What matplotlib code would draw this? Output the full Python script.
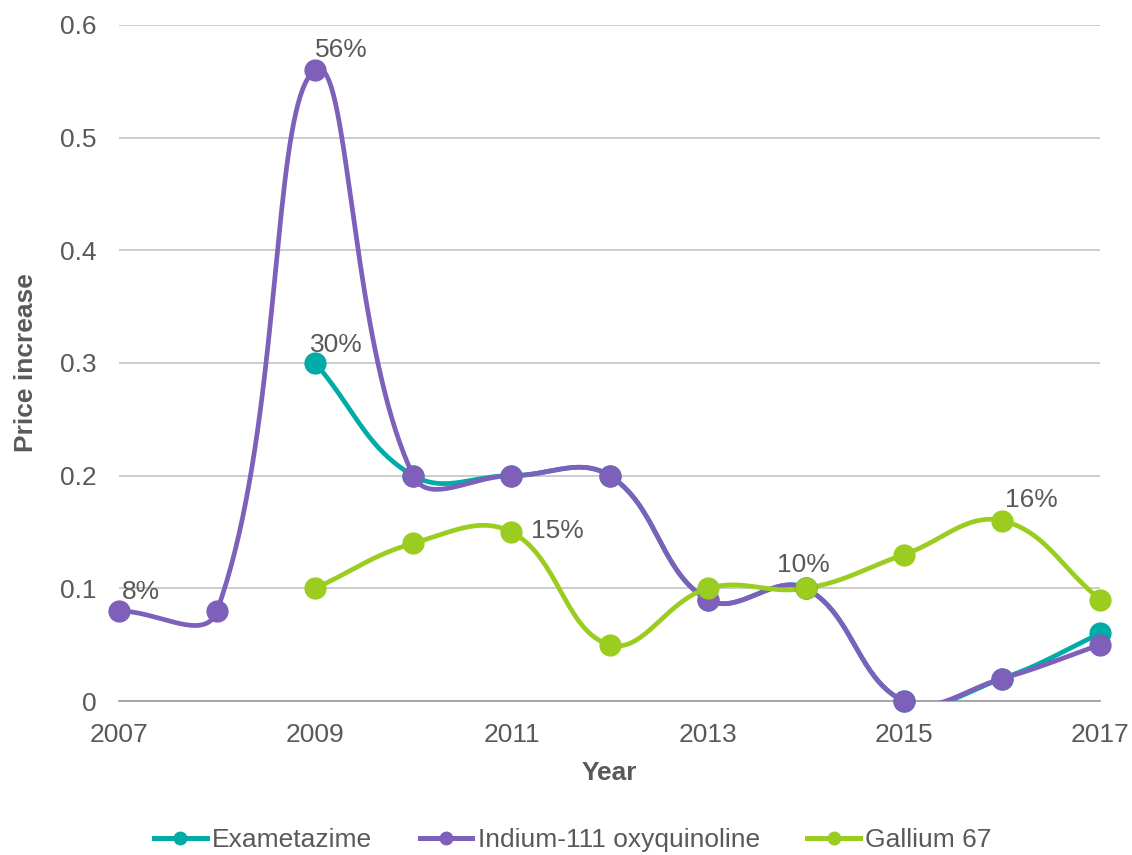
import numpy as np
import matplotlib.pyplot as plt

plt.rcParams['font.family'] = ['Liberation Sans', 'DejaVu Sans']

years = [2007, 2008, 2009, 2010, 2011, 2012, 2013, 2014, 2015, 2016, 2017]

# None = no value for that year
exametazime = [None, None, 0.30, 0.20, 0.20, 0.20, 0.09, 0.10, 0.00, 0.02, 0.06]
indium = [0.08, 0.08, 0.56, 0.20, 0.20, 0.20, 0.09, 0.10, 0.00, 0.02, 0.05]
gallium = [None, None, 0.10, 0.14, 0.15, 0.05, 0.10, 0.10, 0.13, 0.16, 0.09]

series_names = ["Exametazime", "Indium-111 oxyquinoline", "Gallium 67"]
series_colors = ["#00ABA8", "#7E5FBA", "#9ACD1F"]

# data labels: (series index, year, text)
labels = [(1, 2007, "8%"), (1, 2009, "56%"), (0, 2009, "30%"),
          (2, 2011, "15%"), (2, 2014, "10%"), (2, 2016, "16%")]
# where each label sits relative to its point
label_place = {"8%": ((2, 5), 'left', 'bottom'),
               "56%": ((0, 6), 'left', 'bottom'),
               "30%": ((-4, 4), 'left', 'bottom'),
               "15%": ((14, 1), 'left', 'center'),
               "10%": ((-2, 8), 'center', 'bottom'),
               "16%": ((2, 6), 'left', 'bottom')}


def smooth(xs, ys, sx=98.0, sy=1127.0, f=0.6, n=40):
    # excel-like bezier smoothing, done in (roughly) pixel space
    P = np.column_stack([np.asarray(xs, float) * sx, np.asarray(ys, float) * sy])
    m = len(P)
    if m < 3:
        return xs, ys
    cin = P.copy()
    cout = P.copy()
    for i in range(m):
        a = P[max(i - 1, 0)]
        b = P[min(i + 1, m - 1)]
        tan = b - a
        d1 = np.hypot(*(P[i] - a))
        d2 = np.hypot(*(b - P[i]))
        tot = d1 + d2
        if tot == 0:
            continue
        cin[i] = P[i] - tan * f * d1 / tot / 1.5
        cout[i] = P[i] + tan * f * d2 / tot / 1.5
    out = []
    t = np.linspace(0, 1, n)[:, None]
    for i in range(m - 1):
        p0, p1, p2, p3 = P[i], cout[i], cin[i + 1], P[i + 1]
        seg = ((1 - t) ** 3) * p0 + 3 * ((1 - t) ** 2) * t * p1 + 3 * (1 - t) * t ** 2 * p2 + t ** 3 * p3
        out.append(seg if i == 0 else seg[1:])
    out = np.vstack(out)
    return out[:, 0] / sx, out[:, 1] / sy


fig, ax = plt.subplots(figsize=(11.32, 8.55), dpi=100)
fig.subplots_adjust(left=0.105, right=0.972, bottom=0.18, top=0.971)

all_series = [exametazime, indium, gallium]
for name, vals, col in zip(series_names, all_series, series_colors):
    xs = [y for y, v in zip(years, vals) if v is not None]
    ys = [v for v in vals if v is not None]
    sx, sy = smooth(xs, ys)
    ax.plot(sx, sy, color=col, lw=3.4, solid_capstyle='round', zorder=3)
    ax.plot(xs, ys, 'o', color=col, ms=15, clip_on=False, zorder=4)
    ax.plot([], [], '-o', color=col, lw=3.6, ms=9, label=name)

for si, yr, txt in labels:
    v = all_series[si][years.index(yr)]
    off, ha, va = label_place[txt]
    ax.annotate(txt, (yr, v), xytext=off, textcoords='offset points',
                fontsize=19, color='#595959', ha=ha, va=va, zorder=5)

ax.set_xlim(2007, 2017)
ax.set_ylim(0, 0.6)
ax.set_xticks(range(2007, 2018, 2))
ax.set_yticks(np.arange(0, 0.61, 0.1))
ax.set_yticklabels(["0", "0.1", "0.2", "0.3", "0.4", "0.5", "0.6"])
ax.tick_params(length=0, labelsize=19, colors='#595959')
ax.tick_params(axis='x', pad=16)
ax.tick_params(axis='y', pad=16)
ax.grid(axis='y', color='#C8C8C8', lw=1.3)
ax.set_axisbelow(True)
for s in ['top', 'right', 'left']:
    ax.spines[s].set_visible(False)
ax.spines['bottom'].set_color('#A0A0A0')
ax.spines['bottom'].set_linewidth(1.3)

ax.set_xlabel("Year", fontsize=19, fontweight='bold', color='#595959', labelpad=10)
ax.set_ylabel("Price increase", fontsize=19, fontweight='bold', color='#595959', labelpad=16)

fig.legend(loc='center', ncol=3, frameon=False, fontsize=19,
           bbox_to_anchor=(0.506, 0.017), handlelength=2.0, handletextpad=0.2,
           columnspacing=1.8, labelcolor='#595959')

fig.savefig("out.png", dpi=100)
